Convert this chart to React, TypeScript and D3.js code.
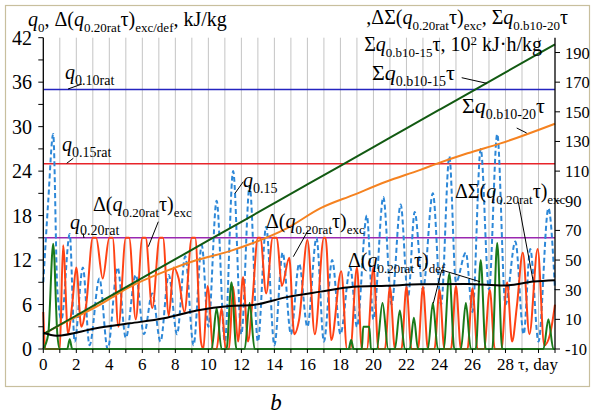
import React from 'react';
import * as d3 from 'd3';

// reference levels (left axis, kJ/kg)
const q010rat = 35;
const q015rat = 25;
const q020rat = 15;

// q0.15 (left axis)
const q015Days = [0, 0.3, 0.6, 0.85, 1.1, 1.6, 1.9, 2.4, 2.8, 3.4, 3.9, 4.5, 5.0, 5.6, 6.1, 6.6, 7.1, 7.6, 8.1, 8.6, 9.1, 9.6, 10.0, 10.5, 11.0, 11.5, 12.0, 12.5, 13.0, 13.5, 14.0, 14.5, 15.0, 15.5, 16.0, 16.55, 17.0, 17.5, 18.0, 18.6, 19.0, 19.6, 20.0, 20.6, 21.1, 21.65, 22.1, 22.5, 23.0, 23.6, 24.1, 24.6, 25.0, 25.6, 26.0, 26.5, 27.0, 27.5, 28.0, 28.6, 29.1, 29.5, 30.0, 30.6, 31];
const q015Vals = [9, 20, 29, 8, 4, 15.5, 1, 11, 0.5, 9.5, 0, 11, 1.5, 10, 2, 7.5, 1, 10, 2, 12.5, 0.5, 14, 3, 20, 1, 24, 2, 22, 1, 16.5, 0.5, 13, 2, 11.5, 3, 15, 1, 12, 2, 11, 3, 18, 4, 20.5, 6, 19.5, 7, 18.5, 8, 21, 6, 26, 9, 13, 5, 27, 8, 29, 6, 14.5, 2, 13.5, 1, 19, 8];

// Δ(q0.20rat τ)exc (left axis)
const excDays = [0, 0.12, 1.0, 1.2, 1.5, 1.75, 2.0, 2.3, 2.6, 3.0, 3.2, 3.6, 4.0, 4.2, 4.55, 5.0, 5.2, 5.6, 6.0, 6.2, 6.6, 7.05, 7.25, 7.6, 7.9, 8.2, 8.55, 9.0, 9.2, 9.55, 9.7, 9.95, 10.3, 10.5, 10.8, 11.05, 11.25, 11.5, 11.8, 12.1, 12.4, 12.65, 13.0, 13.15, 13.5, 13.9, 14.15, 14.45, 14.9, 15.2, 15.5, 16.0, 16.45, 17.0, 17.1, 17.45, 18.05, 18.4, 18.6, 19.0, 19.3, 19.6, 20.0, 20.3, 20.7, 21.0, 21.3, 21.7, 22.0, 22.3, 22.7, 23.0, 23.3, 23.7, 24.0, 24.3, 24.7, 25.0, 25.3, 25.7, 26.0, 26.3, 26.7, 27.05, 27.35, 27.75, 28.1, 28.4, 28.7, 29.05, 29.45, 29.95, 30.35, 30.7, 31];
const excVals = [5, 0, 0, 14, 2, 6, 11, 3, 6, 15, 15, 9.5, 15, 15, 3, 15, 15, 4, 15, 15, 5.5, 15, 15, 4.5, 11, 9.5, 5, 15, 15, 1, 0, 8.5, 0, 0, 5.5, 0, 0, 8.4, 1, 9.7, 1, 6, 15, 15, 7.5, 15, 15, 8.5, 12.3, 2, 4, 14.7, 2, 15, 15, 1.2, 10.5, 0, 0, 11, 0, 0, 11, 0, 0, 8.4, 0, 0, 8.4, 0, 0, 8.4, 0, 0, 8, 0, 0, 8.5, 0, 0, 8.2, 0, 0, 8, 0, 0, 9, 1, 6, 13, 2, 13.5, 0.5, 2, 6];

// Δ(q0.20rat τ)def (left axis)
const defDays = [0, 0.3, 0.6, 0.85, 1.0, 1.45, 1.6, 1.75, 10.2, 10.5, 10.8, 11.1, 11.4, 11.7, 12.2, 12.5, 12.8, 18.5, 18.65, 18.8, 19.3, 19.38, 19.75, 19.85, 20.2, 20.55, 20.9, 21.3, 21.6, 21.9, 22.2, 22.45, 22.7, 23.3, 23.6, 23.9, 24.25, 24.6, 24.9, 25.3, 25.6, 25.9, 26.2, 26.5, 26.8, 27.2, 27.5, 27.8, 30.3, 30.6, 30.9, 31];
const defVals = [0, 2, 14.2, 2, 0, 0, 1.3, 0, 0, 5.5, 0, 0, 9, 0, 0, 6.2, 0, 0, 1.2, 0, 0, 3, 3, 0, 0, 6.2, 0, 0, 5.2, 0, 0, 4.2, 0, 0, 6.2, 0, 0, 10.2, 0, 0, 6.2, 0, 0, 12, 0, 0, 14.3, 0, 0, 4, 0, 0];

// Σq0.b10-15 τ (right axis, 10^2 kJ·h/kg)
const sum15Days = [0, 2, 4, 6, 8, 10, 12, 14, 16, 18, 20, 22, 24, 26, 28, 30, 31];
const sum15Vals = [0, 12.6, 25.3, 38, 50.6, 63.2, 75.8, 88.4, 101, 113.6, 126.2, 138.8, 151.4, 164, 176.6, 189.2, 195.5];

// Σq0.b10-20 τ (right axis)
const sum20Days = [0, 1.2, 3.2, 5.25, 7.3, 9.3, 11.3, 12.7, 14.75, 16.8, 18.8, 20.8, 22.8, 23.6, 25.7, 27.7, 31];
const sum20Vals = [0, 7.3, 18.5, 32, 42, 50, 56, 61.5, 71.4, 85, 94, 103, 110.7, 114, 122, 128.7, 142];

// ΔΣ(q0.20rat τ)exc (right axis)
const dsumDays = [0, 0.8, 3.2, 5.25, 7.3, 9.3, 11.3, 12.7, 14.75, 16.8, 18.8, 20.8, 22.8, 25.7, 27.9, 29.7, 31];
const dsumVals = [1, -1, 4, 7.3, 10.7, 16, 19, 19.7, 25, 28.7, 32, 32.7, 33.6, 33.9, 32.8, 35.5, 36.4];

const leftTicks = d3.range(0, 43, 3);
const rightTicks = d3.range(-10, 191, 20);
const dayTicks = d3.range(0, 32, 1);
const dayLabels = d3.range(0, 29, 2);

const FONT = "'Liberation Serif', 'Times New Roman', Times, serif";
const TXT: React.CSSProperties = { fontFamily: FONT };

type Part = { t: string; s?: 'sub' | 'sup'; i?: boolean };
const N = (t: string): Part => ({ t });
const I = (t: string): Part => ({ t, i: true });
const S = (t: string): Part => ({ t, s: 'sub' });
const P = (t: string): Part => ({ t, s: 'sup' });

const Rich: React.FC<{ x: number; y: number; size: number; sub: number; parts: Part[]; anchor?: string }> = ({ x, y, size, sub, parts, anchor = 'start' }) => {
  let cur = 0;
  return (
    <text x={x} y={y} style={TXT} fontSize={size} textAnchor={anchor} fill="#000">
      {parts.map((p, k) => {
        const target = p.s === 'sub' ? size * 0.28 : p.s === 'sup' ? -size * 0.32 : 0;
        const dy = target - cur;
        cur = target;
        return (
          <tspan key={k} dy={dy} fontSize={p.s ? sub : size} fontStyle={p.i ? 'italic' : 'normal'}>
            {p.t}
          </tspan>
        );
      })}
    </text>
  );
};

export default function App() {
  const W = 592;
  const H = 419;
  const x = d3.scaleLinear().domain([0, 31]).range([43.3, 555]);
  const yL = d3.scaleLinear().domain([0, 42]).range([349, 37.7]);
  const yR = d3.scaleLinear().domain([-10, 200]).range([349, 37.7]);

  const lineL = (days: number[], vals: number[]) =>
    d3.line<number>().x((_, i) => x(days[i])).y((v) => yL(v)).curve(d3.curveMonotoneX)(vals) ?? '';
  const lineR = (days: number[], vals: number[]) =>
    d3.line<number>().x((_, i) => x(days[i])).y((v) => yR(v)).curve(d3.curveMonotoneX)(vals) ?? '';

  const x0 = x(0);
  const x1 = x(31);
  const yTop = yL(42);
  const yBot = yL(0);

  return (
    <svg width={W} height={H} style={{ position: 'absolute', left: 0, top: 0, background: '#fff' }}>
      <rect x={5.5} y={5.5} width={584} height={381} fill="#fff" stroke="#c8bf9e" strokeWidth={1.2} />

      {/* vertical grid */}
      {dayTicks.slice(1, -1).map((d) => (
        <line key={d} x1={x(d)} x2={x(d)} y1={yTop} y2={yBot} stroke="#c4c4c4" strokeWidth={1} />
      ))}

      {/* reference levels */}
      <line x1={x0} x2={x1} y1={yL(q010rat)} y2={yL(q010rat)} stroke="#2424c0" strokeWidth={1.5} />
      <line x1={x0} x2={x1} y1={yL(q015rat)} y2={yL(q015rat)} stroke="#e8242a" strokeWidth={1.5} />
      <line x1={x0} x2={x1} y1={yL(q020rat)} y2={yL(q020rat)} stroke="#9a28b0" strokeWidth={1.5} />

      {/* series */}
      <path d={lineL(q015Days, q015Vals)} fill="none" stroke="#2d88d8" strokeWidth={2} strokeDasharray="5 3" />
      <path d={lineL(excDays, excVals)} fill="none" stroke="#ff4214" strokeWidth={2} />
      <path d={lineL(defDays, defVals)} fill="none" stroke="#1a7a1a" strokeWidth={2} />
      <path d={lineR(sum20Days, sum20Vals)} fill="none" stroke="#f58220" strokeWidth={2} />
      <path d={lineR(sum15Days, sum15Vals)} fill="none" stroke="#125a12" strokeWidth={2} />
      <path d={lineR(dsumDays, dsumVals)} fill="none" stroke="#000" strokeWidth={2} />

      {/* axes */}
      <line x1={x0} x2={x0} y1={yTop} y2={yBot} stroke="#000" strokeWidth={1.3} />
      <line x1={x1} x2={x1} y1={yTop} y2={yBot} stroke="#000" strokeWidth={1.3} />
      <line x1={x0} x2={x1} y1={yBot} y2={yBot} stroke="#1a6a1a" strokeWidth={1.5} />

      {leftTicks.map((v) => (
        <g key={v}>
          <line x1={x0 - 5} x2={x0} y1={yL(v)} y2={yL(v)} stroke="#000" />
          {v % 6 === 0 && (
            <text x={32} y={yL(v) + 7} textAnchor="end" style={TXT} fontSize={20}>
              {v}
            </text>
          )}
        </g>
      ))}
      {rightTicks.map((v) => (
        <g key={v}>
          <line x1={x1} x2={x1 + 5} y1={yR(v)} y2={yR(v)} stroke="#000" />
          <text x={565} y={yR(v) + 6} style={TXT} fontSize={16.5}>
            {v}
          </text>
        </g>
      ))}
      {dayTicks.map((d) => (
        <line key={d} x1={x(d)} x2={x(d)} y1={yBot} y2={yBot + 4} stroke="#000" />
      ))}
      {dayLabels.map((d) => (
        <text key={d} x={x(d)} y={370} textAnchor="middle" style={TXT} fontSize={17}>
          {d}
        </text>
      ))}
      <text x={518} y={370} style={TXT} fontSize={17}>
        τ, day
      </text>

      {/* axis titles */}
      <Rich x={28} y={26} size={20} sub={13} parts={[I('q'), S('0'), N(', Δ('), I('q'), S('0.20rat'), N('τ)'), S('exc/def'), N(', kJ/kg')]} />
      <Rich x={568} y={24} size={20} sub={13} anchor="end" parts={[N(',ΔΣ('), I('q'), S('0.20rat'), N('τ)'), S('exc'), N(', Σ'), I('q'), S('0.b10-20'), N('τ')]} />
      <Rich x={542} y={51} size={20} sub={13} anchor="end" parts={[N('Σ'), I('q'), S('0.b10-15'), N('τ, 10'), P('2'), N(' kJ·h/kg')]} />

      {/* series labels and leaders */}
      <Rich x={65} y={79} size={20} sub={14} parts={[I('q'), S('0.10rat')]} />
      <line x1={68} y1={89} x2={82} y2={84} stroke="#000" />

      <Rich x={62} y={151} size={20} sub={14} parts={[I('q'), S('0.15rat')]} />
      <line x1={66.7} y1={163.3} x2={73.3} y2={158.3} stroke="#000" />

      <Rich x={70} y={229} size={20} sub={14} parts={[I('q'), S('0.20rat')]} />
      <line x1={83} y1={233} x2={84} y2={238} stroke="#000" />

      <Rich x={243} y={187} size={20} sub={14} parts={[I('q'), S('0.15')]} />
      <line x1={235} y1={193.3} x2={243.3} y2={181.7} stroke="#000" />

      <Rich x={93} y={211} size={20} sub={13} parts={[N('Δ('), I('q'), S('0.20rat'), N('τ)'), S('exc')]} />
      <line x1={158.3} y1={221.7} x2={148.3} y2={246.7} stroke="#000" />

      <Rich x={266} y={228} size={20} sub={13} parts={[N('Δ('), I('q'), S('0.20rat'), N('τ)'), S('exc')]} />
      <line x1={308.3} y1={230} x2={293.3} y2={256.7} stroke="#000" />

      <Rich x={348} y={267} size={20} sub={13} parts={[N('Δ('), I('q'), S('0.20rat'), N('τ)'), S('def')]} />
      <line x1={441.7} y1={270} x2={433.3} y2={303.3} stroke="#000" />
      <line x1={441.7} y1={270} x2={480} y2={281.7} stroke="#000" />

      <Rich x={455} y={198} size={20} sub={13} parts={[N('ΔΣ('), I('q'), S('0.20rat'), N('τ)'), S('exc')]} />
      <line x1={518.3} y1={201.7} x2={533.3} y2={281.7} stroke="#000" />

      <Rich x={372} y={80} size={22} sub={14} parts={[N('Σ'), I('q'), S('0.b10-15'), N('τ')]} />
      <line x1={461.7} y1={77.7} x2={486.7} y2={83.3} stroke="#000" />

      <Rich x={462} y={113} size={22} sub={14} parts={[N('Σ'), I('q'), S('0.b10-20'), N('τ')]} />
      <line x1={516.7} y1={128} x2={526.7} y2={133} stroke="#000" />

      <text x={276} y={410} textAnchor="middle" style={TXT} fontSize={23} fontStyle="italic">
        b
      </text>
    </svg>
  );
}
